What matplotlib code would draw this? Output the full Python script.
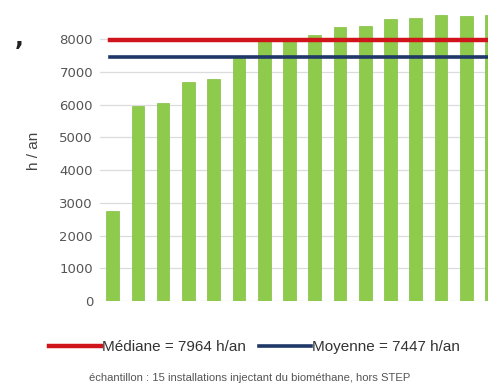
import matplotlib
matplotlib.use("Agg")
import matplotlib.pyplot as plt

# heures de fonctionnement par installation (h/an), triees
heures = [2750, 5950, 6040, 6700, 6780, 7440, 7950, 7964,
          8120, 8380, 8420, 8610, 8650, 8730, 8720, 8740]
mediane = 7964
moyenne = 7447
y_ticks = [0, 1000, 2000, 3000, 4000, 5000, 6000, 7000, 8000]

fig = plt.figure(figsize=(4.89, 3.89), dpi=100)
ax = fig.add_axes([0.2045, 0.226, 0.7955, 0.774])

x = range(len(heures))
ax.bar(x, heures, width=0.5, color="#8ecb4c", edgecolor="#82bf42",
       linewidth=0.5, zorder=2)

l_med = ax.axhline(mediane, xmin=0.025, color="#d0141c", lw=3.2, zorder=3,
                   label="Médiane = %d h/an" % mediane)
l_moy = ax.axhline(moyenne, xmin=0.025, color="#1f3868", lw=2.6, zorder=3,
                   label="Moyenne = %d h/an" % moyenne)

ax.set_xlim(-0.5, 14.9)
ax.set_ylim(0, 9200)
ax.set_yticks(y_ticks)
ax.set_yticklabels([str(v) for v in y_ticks], color="#555555", fontsize=9.5)
ax.set_xticks([])
ax.tick_params(axis="y", length=0, pad=5)
ax.yaxis.grid(True, color="#dcdcdc", lw=0.9, zorder=0)
for s in ax.spines.values():
    s.set_visible(False)
ax.set_ylabel("h / an", fontsize=11, color="#444444",
              family="Liberation Sans", labelpad=13)

fig.text(0.03, 0.885, ",", fontsize=17, fontweight="bold", color="#222222")

fig.legend(handles=[l_med, l_moy], loc="center", ncol=2,
           bbox_to_anchor=(0.52, 0.108), frameon=False,
           prop={"family": "Liberation Sans", "size": 11},
           handlelength=3.4, handletextpad=0.05, columnspacing=0.9,
           labelcolor="#333333")

fig.text(0.51, 0.02, "échantillon : 15 installations injectant du biométhane, hors STEP",
         ha="center", fontsize=8.1, color="#555555", family="Liberation Sans")

fig.savefig("out.png", dpi=100)
